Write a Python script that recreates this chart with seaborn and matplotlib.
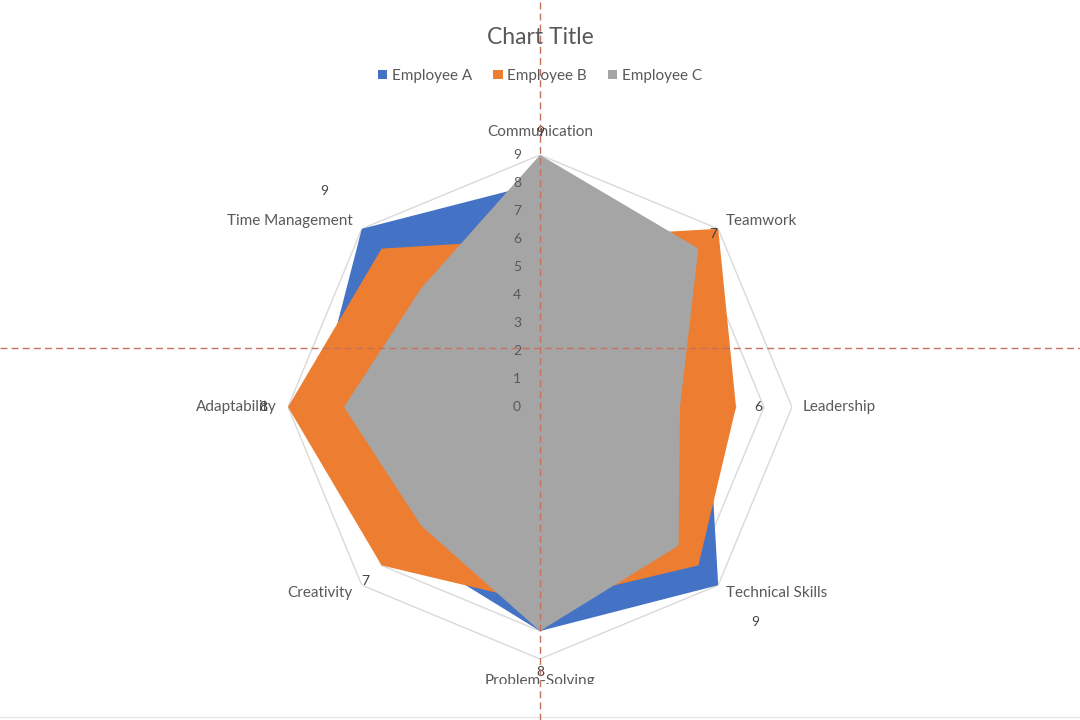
import numpy as np
import matplotlib
matplotlib.use("Agg")
import matplotlib.pyplot as plt
import seaborn as sns
from matplotlib.patches import Patch
from matplotlib.lines import Line2D
from matplotlib.transforms import Bbox

# ---------------- data ----------------
categories = ["Communication", "Teamwork", "Leadership", "Technical Skills",
              "Problem-Solving", "Creativity", "Adaptability", "Time Management"]
employee_a = [8, 7, 6, 9, 8, 7, 8, 9]
employee_b = [6, 9, 7, 8, 7, 8, 9, 8]
employee_c = [9, 8, 5, 7, 8, 6, 7, 6]
series_names = ["Employee A", "Employee B", "Employee C"]
data_labels = [9, 7, 6, 9, 8, 7, 8, 9]
tick_values = [0, 1, 2, 3, 4, 5, 6, 7, 8, 9]

# ---------------- style ----------------
sns.set_theme(style="white")
plt.rcParams['font.family'] = ['Lato', 'DejaVu Sans']
colors = sns.color_palette(["#4472C4", "#ED7D31", "#A5A5A5"])
text_col = "#595959"
grid_col = "#D9D9D9"

fig = plt.figure(figsize=(10.8, 7.2), dpi=100)
fig.patch.set_facecolor("white")

cx, cy, R = 540, 407, 252
ax = fig.add_axes([(cx - R) / 1080, (720 - cy - R) / 720, 2 * R / 1080, 2 * R / 720],
                  projection="polar")
ax.set_theta_zero_location("N")
ax.set_theta_direction(-1)
ax.set_ylim(0, max(tick_values))
ax.grid(False)
ax.spines["polar"].set_visible(False)
ax.set_xticks([])
ax.set_yticks([])
ax.patch.set_alpha(0)

n = len(categories)
angles = np.linspace(0, 2 * np.pi, n, endpoint=False)
closed = np.append(angles, angles[0])

# octagonal gridlines
for v in tick_values[1:]:
    ax.plot(closed, [v] * (n + 1), color=grid_col, lw=1, zorder=1)

# filled series
for i, (vals, col) in enumerate(zip([employee_a, employee_b, employee_c], colors)):
    vv = np.append(vals, vals[0])
    ax.fill(closed, vv, color=col, lw=0, zorder=2 + i)

# value axis tick labels
for v in tick_values:
    ax.annotate(str(v), xy=(0, v), xytext=(-23, 0), textcoords="offset pixels",
                ha="center", va="center", fontsize=10, color=text_col, zorder=10)

# category labels
cat_offsets = [(0, 23, "center"), (8, 8, "left"), (11, 0, "left"), (8, -8, "left"),
               (0, -22, "center"), (-9, -8, "right"), (-11, 0, "right"), (-9, 8, "right")]
for ang, cat, (ox, oy, ha) in zip(angles, categories, cat_offsets):
    if cat == "Problem-Solving":
        px = cx + R * np.sin(ang) + ox
        py = (720 - cy) + R * np.cos(ang) + oy
        t = fig.text(px / 1080, py / 720, cat, ha=ha, va="center",
                     fontsize=11, color=text_col, zorder=10)
        t.set_clip_box(Bbox.from_extents(0, 36, 1080, 720))
        t.set_clip_on(True)
    else:
        ax.annotate(cat, xy=(ang, max(tick_values)), xytext=(ox, oy),
                    textcoords="offset pixels", ha=ha, va="center",
                    fontsize=11, color=text_col, zorder=10, annotation_clip=False)

# data labels
label_radius = [9.82, 8.76, 7.79, 10.86, 9.46, 8.81, 9.89, 10.91]
for ang, lab, r in zip(angles, data_labels, label_radius):
    ax.text(ang, r, str(lab), ha="center", va="center", fontsize=10,
            color="#404040", zorder=11, clip_on=False)

# title & legend
fig.text(0.5, 1 - 37 / 720, "Chart Title", ha="center", va="center",
         fontsize=16.5, color=text_col)
handles = [Patch(facecolor=c, edgecolor="none") for c in colors]
fig.legend(handles, series_names, loc="center", bbox_to_anchor=(0.5, 1 - 76 / 720),
           ncol=3, frameon=False, fontsize=11, labelcolor=text_col,
           handlelength=0.6, handleheight=0.6, handletextpad=0.3, columnspacing=1.4)

# guide lines from the screenshot
guide = "#C4725E"
fig.add_artist(Line2D([cx / 1080, cx / 1080], [0, 1], color=guide, lw=1,
                      ls=(0, (5, 3)), transform=fig.transFigure, zorder=20))
fig.add_artist(Line2D([0, 1], [1 - 348 / 720, 1 - 348 / 720], color=guide, lw=1,
                      ls=(0, (5, 3)), transform=fig.transFigure, zorder=20))
fig.add_artist(Line2D([0, 1], [3 / 720, 3 / 720], color="#E6E6E6", lw=1,
                      transform=fig.transFigure, zorder=5))

fig.savefig("out.png", dpi=100, facecolor="white")
